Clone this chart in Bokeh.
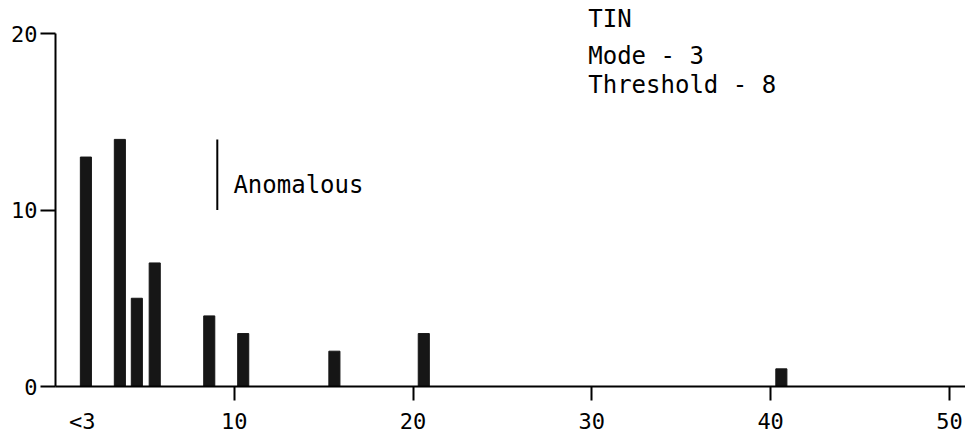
from bokeh.plotting import figure
from bokeh.models import FixedTicker, Range1d, ColumnDataSource, LinearAxis
from bokeh.core.properties import value
from bokeh.embed import file_html
from bokeh.resources import INLINE

# Data
bin_labels = ["<3", "3", "4", "5", "8", "10", "15", "20", "40"]
bin_x = [1.7, 3.6, 4.55, 5.55, 8.6, 10.5, 15.6, 20.6, 40.6]
counts = [13, 14, 5, 7, 4, 3, 2, 3, 1]

x_ticks = [10, 20, 30, 40, 50]
x_label_ticks = [1.5, 10, 20, 30, 40, 50]
x_label_text = {1.5: "<3"}
y_ticks = [0, 10, 20]

header_lines = ["TIN", "Mode - 3", "Threshold - 8"]
header_y = [20.85, 18.75, 17.1]

FONT = "DejaVu Sans Mono"
INK = "#161616"

p = figure(width=965, height=438, output_backend="svg", toolbar_location=None,
           x_range=Range1d(0, 50.9), y_range=Range1d(0, 21.87),
           min_border_left=55, min_border_right=0, min_border_top=0,
           min_border_bottom=52)
p.outline_line_color = None
p.xgrid.visible = False
p.ygrid.visible = False
p.background_fill_color = "white"
p.border_fill_color = "white"

src = ColumnDataSource(dict(x=bin_x, top=counts, label=bin_labels))
p.vbar(x="x", top="top", bottom=0, width=0.62, source=src,
       fill_color=INK, line_color=INK)

# axes
for ax in (p.xaxis[0], p.yaxis[0]):
    ax.axis_line_color = "black"
    ax.axis_line_width = 2
    ax.major_tick_line_color = "black"
    ax.major_tick_line_width = 2
    ax.minor_tick_line_color = None
    ax.major_tick_in = 0
    ax.major_label_text_font = FONT
    ax.major_label_text_font_size = "22px"
    ax.major_label_text_color = "black"

# x axis: line + tick marks only
p.xaxis[0].ticker = FixedTicker(ticks=x_ticks)
p.xaxis[0].major_tick_out = 14
p.xaxis[0].major_label_standoff = 0
p.xaxis[0].major_label_text_font_size = "1px"
p.xaxis[0].major_label_text_color = None

# second axis below carrying the labels (including "<3" with no tick mark)
lab_axis = LinearAxis(ticker=FixedTicker(ticks=x_label_ticks),
                      major_label_overrides=x_label_text,
                      axis_line_color=None, major_tick_line_color=None,
                      minor_tick_line_color=None, major_tick_in=0,
                      major_tick_out=0, major_label_standoff=8,
                      major_label_text_font=FONT,
                      major_label_text_font_size="22px",
                      major_label_text_color="black")
p.add_layout(lab_axis, "below")

p.yaxis.ticker = FixedTicker(ticks=y_ticks)
p.yaxis.bounds = (0, 20)
p.yaxis.major_tick_out = 15
p.yaxis.major_label_standoff = 3

# Anomalous marker
p.segment(x0=[9.05], y0=[10], x1=[9.05], y1=[14], line_color="black",
          line_width=2)
p.text(x=[9.95], y=[11.4], text=["Anomalous"], text_font=value(FONT),
       text_font_size="24px", text_baseline="middle", text_align="left",
       text_color="black")

# header text
p.text(x=[29.8] * len(header_lines), y=header_y, text=header_lines,
       text_font=value(FONT), text_font_size="24px", text_baseline="middle",
       text_align="left", text_color="black")

open("out.html", "w").write(file_html(p, INLINE))
